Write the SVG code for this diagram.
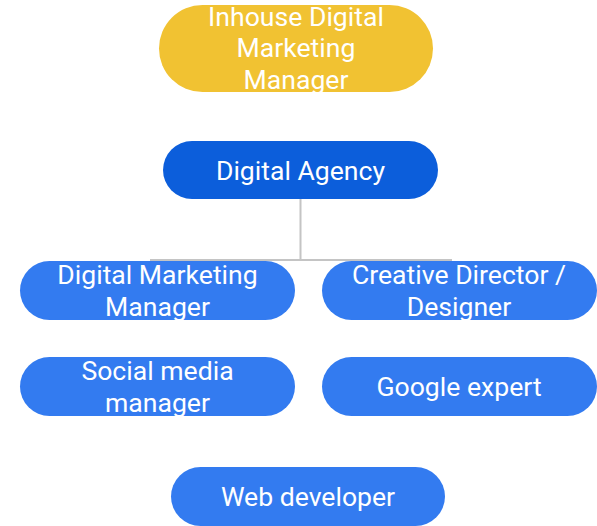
<svg xmlns="http://www.w3.org/2000/svg" width="597" height="526" viewBox="0 0 597 526">
<style>
.t{font-family:Roboto,"Liberation Sans",sans-serif;font-size:26.6px;fill:#ffffff;text-anchor:middle}
.n{fill:#337BF0}
.c{stroke:#C4C4C4;stroke-width:2;fill:none}
</style>
<rect width="597" height="526" fill="#ffffff"/>
<g id="connectors">
<path class="c" d="M300.5 199V260M150 260H452"/>
</g>
<g id="inhouse">
<rect x="159" y="5" width="274" height="87" rx="43.5" fill="#F1C232"/>
<text class="t" x="296" y="26">Inhouse Digital</text>
<text class="t" x="296" y="57">Marketing</text>
<text class="t" x="296" y="89">Manager</text>
</g>
<g id="agency">
<rect x="163" y="141" width="275" height="58" rx="29" fill="#0C5EDB"/>
<text class="t" x="300.5" y="180">Digital Agency</text>
</g>
<g id="dmm">
<rect class="n" x="20" y="261" width="275" height="59" rx="29.5"/>
<text class="t" x="157.5" y="284">Digital Marketing</text>
<text class="t" x="157.5" y="316">Manager</text>
</g>
<g id="creative">
<rect class="n" x="322" y="261" width="275" height="59" rx="29.5"/>
<text class="t" x="459" y="284">Creative Director /</text>
<text class="t" x="459" y="316">Designer</text>
</g>
<g id="social">
<rect class="n" x="20" y="357" width="275" height="59" rx="29.5"/>
<text class="t" x="157.5" y="380">Social media</text>
<text class="t" x="157.5" y="412">manager</text>
</g>
<g id="google">
<rect class="n" x="322" y="357" width="275" height="59" rx="29.5"/>
<text class="t" x="459" y="396">Google expert</text>
</g>
<g id="web">
<rect class="n" x="171" y="467" width="274" height="59" rx="29.5"/>
<text class="t" x="308" y="506">Web developer</text>
</g>
</svg>
